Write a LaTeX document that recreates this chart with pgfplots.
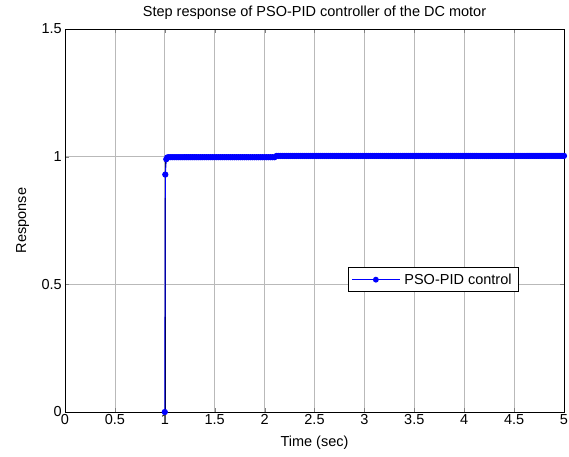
\documentclass[border=0pt]{standalone}
\usepackage{fontspec}
\setmainfont{Liberation Sans}
\usepackage{pgfplots}
\pgfplotsset{compat=1.18}
\begin{document}
\begin{tikzpicture}
\begin{axis}[
  scale only axis, width=499pt, height=383pt,
  xmin=0, xmax=5, ymin=0, ymax=1.5,
  xtick={0,0.5,...,5}, ytick={0,0.5,1,1.5},
  xticklabels={0,0.5,1,1.5,2,2.5,3,3.5,4,4.5,5},
  yticklabels={0,0.5,1,1.5},
  /pgf/number format/assume math mode=true,
  tick label style={font=\fontsize{14.5}{16}\selectfont},
  xticklabel style={inner sep=2pt},
  yticklabel style={inner sep=3pt},
  label style={font=\fontsize{14.5}{16}\selectfont},
  title style={font=\fontsize{14.5}{16}\selectfont, at={(axis description cs:0.5,1.044)}, anchor=center, yshift=-7pt},
  title={Step response of PSO-PID controller of the DC motor},
  xlabel={Time (sec)}, ylabel={Response},
  xlabel style={at={(axis description cs:0.5,-0.081)}, anchor=center},
  ylabel style={at={(axis description cs:-0.085,0.5)}, anchor=center},
  grid=major, major grid style={gray!55, line width=0.6pt},
  tick align=inside, major tick length=4pt, axis line style={black, line width=0.9pt},
  legend style={at={(0.567,0.313)}, anchor=south west, draw=black, line width=0.9pt, font=\fontsize{14.5}{16}\selectfont, inner xsep=3pt, inner ysep=2pt, nodes={inner sep=4pt}},
  legend cell align=left,
]
\draw[black, line width=0.6pt] (axis cs:1.01,0) -- (axis cs:1.01,1);
\addplot[blue, line width=1pt, mark=*, mark size=2.6pt, mark options={fill=blue},
  legend image code/.code={\draw[mark repeat=2, mark phase=2, draw=blue, line width=1pt, mark=*, mark size=2.4pt, mark options={draw=blue, fill=blue}] plot coordinates {(0pt,0pt) (24pt,0pt) (48pt,0pt)};}] coordinates {
(1,0) (1.005,0.93) (1.015,0.99) (1.025,0.997) (1.04,0.998) (1.06,0.998) (1.08,0.998) (1.10,0.998) (1.12,0.998) (1.14,0.998) (1.16,0.998) (1.18,0.998) (1.20,0.998) (1.22,0.998) (1.24,0.998) (1.26,0.998) (1.28,0.998) (1.30,0.998) (1.32,0.998) (1.34,0.998) (1.36,0.998) (1.38,0.998) (1.40,0.998) (1.42,0.998) (1.44,0.998) (1.46,0.998) (1.48,0.998) (1.50,0.998) (1.52,0.998) (1.54,0.998) (1.56,0.998) (1.58,0.998) (1.60,0.998) (1.62,0.998) (1.64,0.998) (1.66,0.998) (1.68,0.998) (1.70,0.998) (1.72,0.998) (1.74,0.998) (1.76,0.998) (1.78,0.998) (1.80,0.998) (1.82,0.998) (1.84,0.998) (1.86,0.998) (1.88,0.998) (1.90,0.998) (1.92,0.998) (1.94,0.998) (1.96,0.998) (1.98,0.998) (2.00,0.998) (2.02,0.998) (2.04,0.998) (2.06,0.998) (2.08,0.998) (2.10,0.998) (2.12,1.003) (2.14,1.003) (2.16,1.003) (2.18,1.003) (2.20,1.003) (2.22,1.003) (2.24,1.003) (2.26,1.003) (2.28,1.003) (2.30,1.003) (2.32,1.003) (2.34,1.003) (2.36,1.003) (2.38,1.003) (2.40,1.003) (2.42,1.003) (2.44,1.003) (2.46,1.003) (2.48,1.003) (2.50,1.003) (2.52,1.003) (2.54,1.003) (2.56,1.003) (2.58,1.003) (2.60,1.003) (2.62,1.003) (2.64,1.003) (2.66,1.003) (2.68,1.003) (2.70,1.003) (2.72,1.003) (2.74,1.003) (2.76,1.003) (2.78,1.003) (2.80,1.003) (2.82,1.003) (2.84,1.003) (2.86,1.003) (2.88,1.003) (2.90,1.003) (2.92,1.003) (2.94,1.003) (2.96,1.003) (2.98,1.003) (3.00,1.003) (3.02,1.003) (3.04,1.003) (3.06,1.003) (3.08,1.003) (3.10,1.003) (3.12,1.003) (3.14,1.003) (3.16,1.003) (3.18,1.003) (3.20,1.003) (3.22,1.003) (3.24,1.003) (3.26,1.003) (3.28,1.003) (3.30,1.003) (3.32,1.003) (3.34,1.003) (3.36,1.003) (3.38,1.003) (3.40,1.003) (3.42,1.003) (3.44,1.003) (3.46,1.003) (3.48,1.003) (3.50,1.003) (3.52,1.003) (3.54,1.003) (3.56,1.003) (3.58,1.003) (3.60,1.003) (3.62,1.003) (3.64,1.003) (3.66,1.003) (3.68,1.003) (3.70,1.003) (3.72,1.003) (3.74,1.003) (3.76,1.003) (3.78,1.003) (3.80,1.003) (3.82,1.003) (3.84,1.003) (3.86,1.003) (3.88,1.003) (3.90,1.003) (3.92,1.003) (3.94,1.003) (3.96,1.003) (3.98,1.003) (4.00,1.003) (4.02,1.003) (4.04,1.003) (4.06,1.003) (4.08,1.003) (4.10,1.003) (4.12,1.003) (4.14,1.003) (4.16,1.003) (4.18,1.003) (4.20,1.003) (4.22,1.003) (4.24,1.003) (4.26,1.003) (4.28,1.003) (4.30,1.003) (4.32,1.003) (4.34,1.003) (4.36,1.003) (4.38,1.003) (4.40,1.003) (4.42,1.003) (4.44,1.003) (4.46,1.003) (4.48,1.003) (4.50,1.003) (4.52,1.003) (4.54,1.003) (4.56,1.003) (4.58,1.003) (4.60,1.003) (4.62,1.003) (4.64,1.003) (4.66,1.003) (4.68,1.003) (4.70,1.003) (4.72,1.003) (4.74,1.003) (4.76,1.003) (4.78,1.003) (4.80,1.003) (4.82,1.003) (4.84,1.003) (4.86,1.003) (4.88,1.003) (4.90,1.003) (4.92,1.003) (4.94,1.003) (4.96,1.003) (4.98,1.003) (5.00,1.003)
};
\addlegendentry{PSO-PID control}
\end{axis}
\pgfresetboundingbox
\path (current axis.south west) ++(-65pt,-44pt) rectangle ([xshift=5pt,yshift=29pt]current axis.north east);
\end{tikzpicture}
\end{document}
